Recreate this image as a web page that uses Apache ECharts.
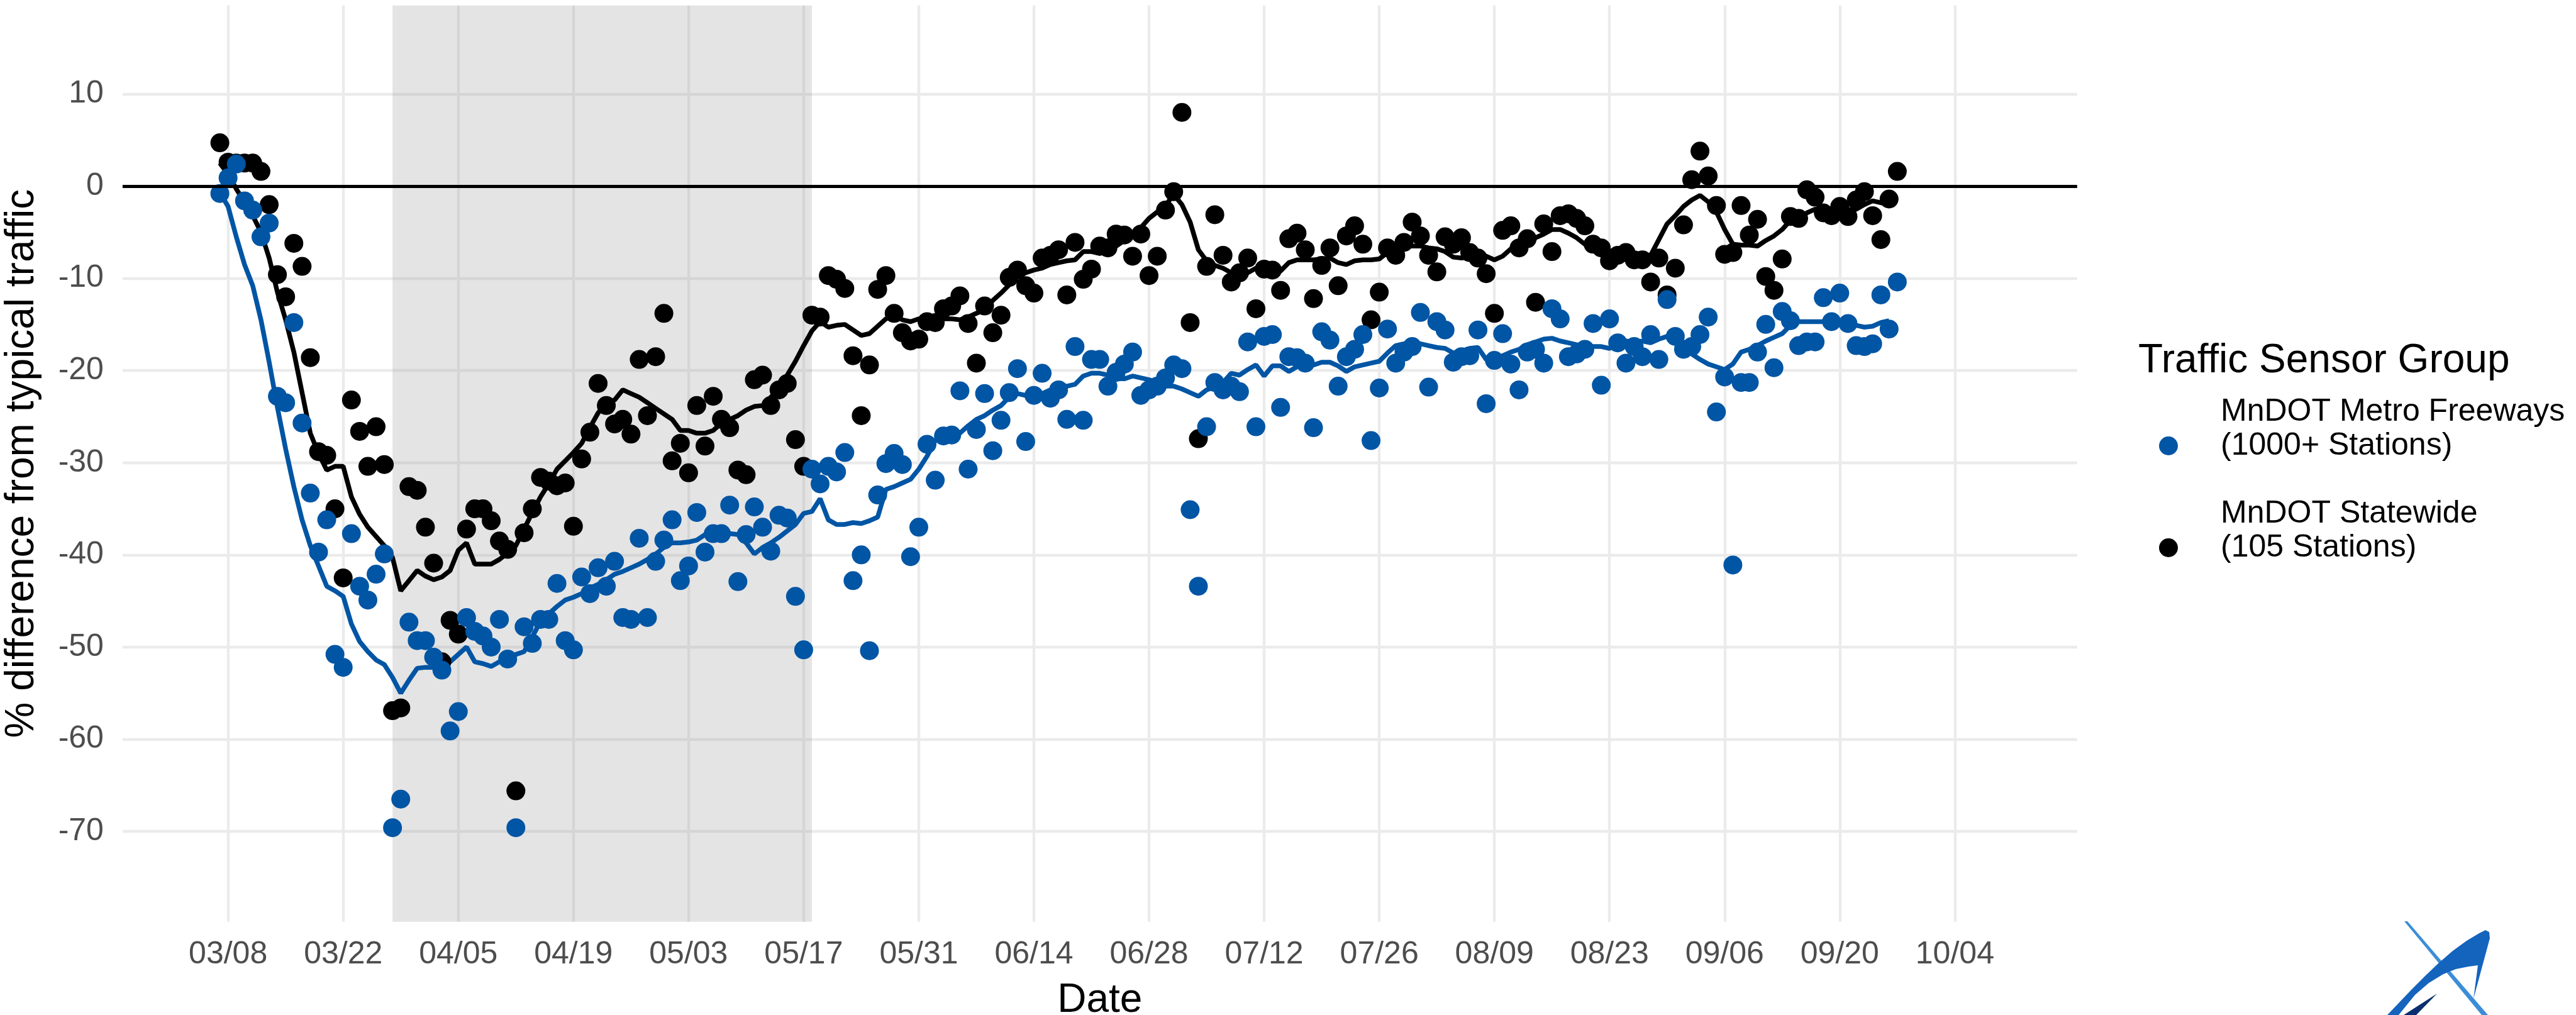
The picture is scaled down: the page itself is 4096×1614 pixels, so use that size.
<!DOCTYPE html>
<html>
<head>
<meta charset="utf-8">
<script src="https://cdn.jsdelivr.net/npm/echarts@6/dist/echarts.min.js"></script>
<style>
html,body{margin:0;padding:0;background:#fff;}
#chart{width:4096px;height:1614px;}
</style>
</head>
<body>
<div id="chart"></div>
<script>
// Day numbers are counted from 03/08 (day 0). Points run from 03/07 (day -1) to 09/27 (day 203).
const firstPointDay = -1;
const firstAvgDay = -1;

// MnDOT Statewide (105 Stations) daily points, % difference from typical traffic
const statewidePoints = [
  4.7, 2.6, 2.5, 2.5, 2.5, 1.6, -2.0, -9.6, -12.0, -6.2,
  -8.7, -18.6, -28.8, -29.2, -35.0, -42.5, -23.2, -26.6, -30.4, -26.1,
  -30.2, -56.9, -56.6, -32.6, -33.0, -37.0, -40.9, -51.6, -47.1, -48.6,
  -37.2, -35.0, -35.0, -36.3, -38.5, -39.4, -65.6, -37.6, -35.0, -31.6,
  -32.0, -32.5, -32.2, -36.9, -29.6, -26.7, -21.4, -23.8, -25.8, -25.3,
  -26.9, -18.8, -24.9, -18.5, -13.8, -29.8, -27.9, -31.1, -23.8, -28.2,
  -22.8, -25.3, -26.2, -30.8, -31.3, -21.0, -20.5, -23.8, -22.1, -21.4,
  -27.5, -30.4, -14.0, -14.2, -9.7, -10.1, -11.1, -18.4, -24.9, -19.4,
  -11.2, -9.7, -13.8, -15.9, -16.8, -16.6, -14.7, -14.8, -13.3, -13.0,
  -11.9, -14.9, -19.2, -13.0, -15.9, -14.0, -9.9, -9.1, -10.8, -11.6,
  -7.8, -7.5, -6.9, -11.8, -6.1, -10.1, -9.0, -6.5, -6.7, -5.2,
  -5.3, -7.6, -5.2, -9.7, -7.6, -2.6, -0.6, 8.0, -14.8, -27.4,
  -8.7, -3.1, -7.5, -10.4, -9.4, -7.8, -13.3, -9.0, -9.1, -11.3,
  -5.7, -5.1, -6.9, -12.2, -8.6, -6.7, -10.8, -5.4, -4.3, -6.3,
  -14.5, -11.5, -6.7, -7.5, -6.1, -3.9, -5.4, -7.5, -9.3, -5.5,
  -6.3, -5.6, -7.2, -7.8, -9.5, -13.8, -4.8, -4.3, -6.7, -5.7,
  -12.6, -4.1, -7.1, -3.2, -3.0, -3.5, -4.3, -6.3, -6.7, -8.1,
  -7.5, -7.2, -8.0, -8.0, -10.4, -7.8, -11.8, -8.9, -4.2, 0.7,
  3.8, 1.1, -2.1, -7.4, -7.2, -2.1, -5.3, -3.6, -9.8, -11.3,
  -7.9, -3.3, -3.5, -0.4, -1.2, -2.9, -3.2, -2.2, -3.3, -1.5,
  -0.6, -3.2, -5.8, -1.4, 1.6
];

// MnDOT Metro Freeways (1000+ Stations) daily points
const metroPoints = [
  -0.8, 0.9, 2.4, -1.6, -2.6, -5.5, -4.0, -22.8, -23.5, -14.8,
  -25.7, -33.3, -39.7, -36.2, -50.8, -52.2, -37.7, -43.4, -44.9, -42.1,
  -39.9, -69.6, -66.5, -47.3, -49.3, -49.3, -51.1, -52.5, -59.1, -57.0,
  -46.8, -48.3, -48.8, -50.0, -47.0, -51.3, -69.6, -47.8, -49.6, -47.0,
  -47.0, -43.1, -49.3, -50.3, -42.4, -44.2, -41.4, -43.4, -40.7, -46.8,
  -47.0, -38.2, -46.8, -40.7, -38.4, -36.2, -42.8, -41.2, -35.4, -39.7,
  -37.7, -37.7, -34.6, -42.9, -37.8, -34.8, -37.0, -39.6, -35.7, -36.0,
  -44.5, -50.3, -30.7, -32.3, -30.4, -31.0, -28.9, -42.8, -40.0, -50.4,
  -33.5, -30.1, -29.0, -30.2, -40.2, -37.0, -28.0, -31.9, -27.1, -27.0,
  -22.2, -30.7, -26.4, -22.5, -28.7, -25.4, -22.4, -19.8, -27.7, -22.7,
  -20.3, -23.0, -22.1, -25.3, -17.4, -25.4, -18.8, -18.8, -21.7, -20.2,
  -19.3, -18.0, -22.7, -22.1, -21.7, -20.8, -19.4, -19.8, -35.1, -43.4,
  -26.1, -21.3, -22.1, -21.7, -22.3, -16.9, -26.1, -16.3, -16.1, -24.0,
  -18.5, -18.6, -19.2, -26.2, -15.8, -16.7, -21.7, -18.5, -17.7, -16.1,
  -27.6, -21.9, -15.5, -19.2, -18.0, -17.4, -13.7, -21.8, -14.7, -15.6,
  -19.1, -18.5, -18.4, -15.6, -23.6, -18.9, -16.0, -19.3, -22.1, -18.0,
  -17.7, -19.2, -13.3, -14.4, -18.5, -18.2, -17.7, -14.9, -21.6, -14.4,
  -17.0, -19.2, -17.4, -18.5, -16.1, -18.8, -12.3, -16.3, -17.7, -17.4,
  -16.1, -14.2, -24.5, -20.7, -41.1, -21.3, -21.3, -18.0, -15.0, -19.7,
  -13.6, -14.6, -17.3, -16.9, -16.9, -12.1, -14.7, -11.6, -14.9, -17.3,
  -17.4, -17.1, -11.8, -15.5, -10.4
];

// Smoothed trend lines, days -1 .. 202
const statewideAvg = [
  2.5, 1.3, -0.3, -1.7, -3.2, -5.0, -7.8, -11.5, -14.5, -18.0,
  -22.4, -26.8, -29.0, -30.8, -30.4, -30.4, -33.7, -35.6, -37.0, -38.0,
  -39.0, -40.3, -43.9, -42.8, -41.7, -42.3, -42.7, -42.4, -41.7, -39.5,
  -38.7, -41.0, -41.0, -41.0, -40.5, -39.8, -39.0, -37.2, -35.4, -33.7,
  -32.3, -30.7, -29.8, -28.9, -27.9, -26.2, -24.6, -23.5, -23.2, -22.1,
  -22.5, -22.9, -23.5, -24.1, -24.7, -25.3, -26.5, -26.5, -26.8, -26.8,
  -26.5, -25.7, -25.3, -24.9, -24.3, -23.9, -23.8, -22.9, -22.1, -20.5,
  -19.0, -17.3, -15.7, -14.7, -15.3, -15.1, -15.0, -15.6, -16.2, -16.0,
  -15.2, -14.4, -14.0, -14.5, -14.7, -14.4, -14.2, -14.5, -14.4, -14.4,
  -14.5, -14.2, -13.8, -13.4, -12.4, -11.6, -10.7, -9.8, -9.4, -9.1,
  -8.9, -8.5, -8.3, -8.1, -8.0, -7.1, -7.1, -7.3, -7.1, -6.5,
  -5.9, -5.5, -4.5, -3.5, -2.8, -2.1, -0.9, -2.0, -3.9, -6.9,
  -8.1, -8.6, -8.9, -9.4, -9.7, -9.4, -8.9, -9.1, -9.6, -9.2,
  -8.3, -8.0, -8.0, -8.0, -7.9, -7.8, -8.3, -8.5, -8.1, -8.0,
  -8.0, -7.9, -7.2, -6.8, -6.5, -6.5, -6.5, -6.7, -6.8, -7.1,
  -7.7, -7.8, -7.7, -7.4, -7.6, -8.0, -7.6, -6.8, -6.3, -6.1,
  -5.6, -5.2, -4.7, -4.7, -5.1, -5.6, -6.3, -6.7, -7.1, -7.4,
  -7.0, -7.2, -7.5, -7.4, -7.5, -5.8, -4.1, -3.2, -2.2, -1.5,
  -1.0, -1.7, -2.8, -4.7, -6.3, -6.4, -6.4, -6.5, -5.9, -5.4,
  -4.7, -3.7, -3.5, -2.9, -2.5, -2.6, -2.9, -2.8, -2.9, -2.5,
  -2.0, -1.6, -1.8, -2.0
];

const metroAvg = [
  -0.7, -2.2, -5.5, -8.5, -10.8, -14.5, -19.1, -24.0, -28.5, -32.6,
  -36.2, -39.0, -41.2, -43.4, -43.9, -44.5, -47.5, -49.4, -50.5, -51.4,
  -51.9, -53.3, -55.0, -53.6, -52.3, -52.2, -52.2, -52.2, -51.6, -50.8,
  -50.0, -51.6, -51.8, -52.1, -51.6, -51.4, -50.8, -50.5, -48.9, -47.2,
  -46.4, -45.6, -44.9, -44.6, -44.2, -43.6, -43.2, -42.7, -42.1, -41.8,
  -41.4, -41.0, -40.5, -39.9, -39.2, -38.7, -38.7, -38.6, -38.4, -37.8,
  -37.7, -37.8, -37.7, -37.8, -38.7, -39.9, -39.2, -38.7, -38.1, -37.4,
  -36.7, -35.5, -35.3, -33.9, -36.2, -36.7, -36.7, -36.5, -36.6, -36.3,
  -35.9, -32.9, -32.6, -32.2, -31.8, -30.7, -29.3, -27.6, -27.2, -27.1,
  -26.8, -26.0, -25.3, -24.9, -24.3, -23.8, -22.9, -22.5, -22.7, -22.9,
  -22.5, -22.1, -21.8, -21.7, -21.5, -20.6, -20.3, -20.3, -20.5, -20.9,
  -20.9, -20.6, -20.8, -21.0, -21.3, -21.7, -21.7, -22.0, -22.4, -22.8,
  -22.1, -21.8, -21.3, -20.3, -20.5, -19.9, -19.4, -20.6, -19.5, -19.5,
  -20.1, -19.6, -19.4, -19.4, -19.1, -19.1, -19.5, -20.1, -19.6, -19.4,
  -19.2, -19.0, -18.1, -17.3, -17.1, -17.1, -17.1, -17.3, -17.5, -17.6,
  -18.1, -17.9, -17.6, -17.5, -18.8, -18.8, -18.4, -18.0, -17.7, -17.2,
  -16.9, -16.6, -16.5, -16.8, -17.0, -17.2, -17.3, -17.4, -17.4, -17.6,
  -17.1, -16.8, -16.9, -16.8, -17.0, -16.6, -16.3, -16.2, -17.4, -18.2,
  -18.8, -19.3, -19.6, -19.9, -19.3, -18.0, -17.7, -17.3, -16.8, -16.4,
  -16.0, -15.1, -14.7, -14.7, -14.7, -14.7, -14.6, -14.7, -14.9, -15.1,
  -15.3, -15.2, -14.8, -14.6
];

// Axis ticks
const xTickDays = [0, 14, 28, 42, 56, 70, 84, 98, 112, 126, 140, 154, 168, 182, 196, 210];
const xTickLabels = ['03/08', '03/22', '04/05', '04/19', '05/03', '05/17', '05/31', '06/14',
  '06/28', '07/12', '07/26', '08/09', '08/23', '09/06', '09/20', '10/04'];
const yTicks = [-70, -60, -50, -40, -30, -20, -10, 0, 10];

// Stay-at-home period (shaded), in days from 03/08
const shadeStartDay = 20;   // 03/28
const shadeEndDay = 71;     // 05/18

const metroName = 'MnDOT Metro Freeways\n(1000+ Stations)';
const stateName = 'MnDOT Statewide\n(105 Stations)';
const metroColor = '#0055A4';
const stateColor = '#000000';

function toXY(values, startDay) {
  return values.map((v, i) => [startDay + i, v]);
}

const chart = echarts.init(document.getElementById('chart'), null, {renderer: 'canvas'});
const option = {
  animation: false,
  backgroundColor: '#ffffff',
  textStyle: {fontFamily: '"Liberation Sans", Arial, sans-serif'},
  title: {
    text: 'Traffic Sensor Group',
    left: 3400,
    top: 542,
    padding: 0,
    textStyle: {fontSize: 64, fontWeight: 'normal', color: '#000000'}
  },
  legend: {
    data: [metroName, stateName],
    orient: 'vertical',
    left: 3433,
    top: 628,
    padding: 0,
    itemGap: 0,
    itemWidth: 30,
    itemHeight: 30,
    icon: 'circle',
    selectedMode: false,
    formatter: function (name) { return name + '\n'; },
    textStyle: {fontSize: 50, lineHeight: 54, color: '#000000', padding: [0, 0, 0, 63]}
  },
  grid: {left: 194.9, right: 793.2, top: 8.7, bottom: 148.3, containLabel: false, outerBoundsMode: 'none'},
  xAxis: {
    type: 'value',
    min: -12.83,
    max: 224.87,
    name: 'Date',
    nameLocation: 'middle',
    nameGap: 94,
    nameTextStyle: {fontSize: 64, color: '#000000'},
    axisLine: {show: false},
    axisTick: {show: false, customValues: xTickDays},
    axisLabel: {
      customValues: xTickDays,
      fontSize: 50,
      color: '#4D4D4D',
      margin: 28,
      formatter: function (v) { const k = xTickDays.indexOf(Math.round(v)); return k >= 0 ? xTickLabels[k] : ''; }
    },
    splitLine: {show: true, lineStyle: {color: '#EBEBEB', width: 4.4}}
  },
  yAxis: {
    type: 'value',
    min: -79.8,
    max: 19.6,
    name: '% difference from typical traffic',
    nameLocation: 'middle',
    nameGap: 128,
    nameTextStyle: {fontSize: 64, color: '#000000'},
    axisLine: {show: false},
    axisTick: {show: false, customValues: yTicks},
    axisLabel: {customValues: yTicks, fontSize: 50, color: '#4D4D4D', margin: 30},
    splitLine: {show: true, lineStyle: {color: '#EBEBEB', width: 4.4}}
  },
  series: [
    {
      name: 'shade',
      type: 'line',
      data: [],
      silent: true,
      z: 1,
      markArea: {
        silent: true,
        itemStyle: {color: 'rgba(160,160,160,0.285)'},
        data: [[{xAxis: shadeStartDay}, {xAxis: shadeEndDay}]]
      },
      markLine: {
        silent: true,
        symbol: ['none', 'none'],
        label: {show: false},
        lineStyle: {color: '#000000', width: 5, type: 'solid'},
        data: [{yAxis: 0}]
      }
    },
    {
      name: 'Statewide trend',
      type: 'line',
      data: toXY(statewideAvg, firstAvgDay),
      showSymbol: false,
      smooth: false,
      silent: true,
      z: 2,
      lineStyle: {color: stateColor, width: 7.5},
      itemStyle: {color: stateColor}
    },
    {
      name: 'Metro trend',
      type: 'line',
      data: toXY(metroAvg, firstAvgDay),
      showSymbol: false,
      smooth: false,
      silent: true,
      z: 2,
      lineStyle: {color: metroColor, width: 7.5},
      itemStyle: {color: metroColor}
    },
    {
      name: stateName,
      type: 'scatter',
      data: toXY(statewidePoints, firstPointDay),
      symbol: 'circle',
      symbolSize: 30,
      silent: true,
      z: 3,
      itemStyle: {color: stateColor, opacity: 1}
    },
    {
      name: metroName,
      type: 'scatter',
      data: toXY(metroPoints, firstPointDay),
      symbol: 'circle',
      symbolSize: 30,
      silent: true,
      z: 4,
      itemStyle: {color: metroColor, opacity: 1}
    }
  ],
  graphic: [
    {
      type: 'polygon',
      silent: true,
      shape: {points: [[3823, 1465], [3828, 1465], [3956, 1614], [3946, 1614]]},
      style: {fill: '#3C8DD8'}
    },
    {
      type: 'polygon',
      silent: true,
      shape: {points: [[3796, 1614], [3815, 1594], [3835, 1573], [3856, 1552], [3878, 1531], [3900, 1512],
        [3922, 1496], [3942, 1484], [3952, 1479], [3958, 1482], [3959, 1492], [3933, 1588], [3940, 1535],
        [3925, 1537], [3905, 1541], [3885, 1549], [3862, 1563], [3840, 1582], [3814, 1614]]},
      style: {fill: '#1464BE'}
    },
    {
      type: 'polygon',
      silent: true,
      shape: {points: [[3822, 1614], [3875, 1580], [3842, 1614]]},
      style: {fill: '#0A2F6E'}
    }
  ]
};
chart.setOption(option);
</script>
</body>
</html>
